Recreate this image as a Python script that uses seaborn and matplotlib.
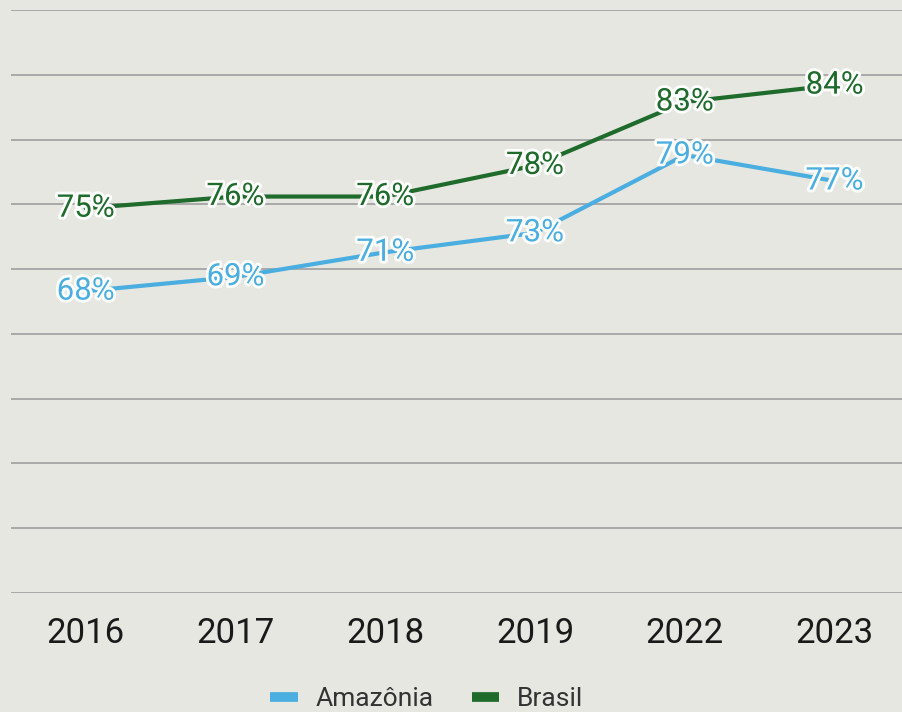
import pandas as pd
import matplotlib.pyplot as plt
import matplotlib.patheffects as pe
import seaborn as sns

years = ["2016", "2017", "2018", "2019", "2022", "2023"]
amazonia = [68.3, 69.4, 71.3, 72.8, 78.8, 76.8]
brasil = [74.7, 75.6, 75.6, 78.0, 82.9, 84.2]
series_names = ["Amazônia", "Brasil"]
colors = {"Amazônia": "#4aaee0", "Brasil": "#1f6b2b"}

bg = "#e7e7e2"

df = pd.DataFrame({
    "ano": years * 2,
    "valor": amazonia + brasil,
    "serie": [series_names[0]] * len(years) + [series_names[1]] * len(years),
})

sns.set_style("white")
plt.rcParams["font.family"] = ["Roboto", "DejaVu Sans"]

fig = plt.figure(figsize=(9.02, 7.12), dpi=100, facecolor=bg)
ax = fig.add_axes([0.012, 0.1671, 0.988, 0.8189])
ax.set_facecolor(bg)

sns.lineplot(data=df, x="ano", y="valor", hue="serie", palette=colors,
             linewidth=3, ax=ax, legend=False, zorder=3)

# percentage labels centred on the points
for name, vals in zip(series_names, [amazonia, brasil]):
    for i, v in enumerate(vals):
        ax.text(i, v, f"{v:.0f}%", ha="center", va="center", fontsize=22.5,
                color=colors[name], zorder=5,
                path_effects=[pe.withStroke(linewidth=4, foreground="white")])

ax.set_ylim(45, 90)
ax.set_yticks(range(45, 91, 5))
ax.set_xlim(-0.5, 5.45)
ax.yaxis.grid(True, color="#a9a9a9", linewidth=1.4)
ax.set_axisbelow(True)
ax.tick_params(axis="y", left=False, labelleft=False)
ax.tick_params(axis="x", bottom=False, labelsize=25, labelcolor="#1a1a1a", pad=14)
ax.set_xlabel("")
ax.set_ylabel("")
sns.despine(ax=ax, left=True, bottom=True)

handles = [plt.Line2D([], [], color=colors[n], linewidth=7, solid_capstyle="butt")
           for n in series_names]
fig.legend(handles, series_names, loc="center", bbox_to_anchor=(0.473, 0.018),
           ncol=2, frameon=False, fontsize=19, handlelength=1.05,
           handletextpad=0.65, columnspacing=1.45, labelcolor="#333333")

fig.savefig("out.png", dpi=100, facecolor=bg)
